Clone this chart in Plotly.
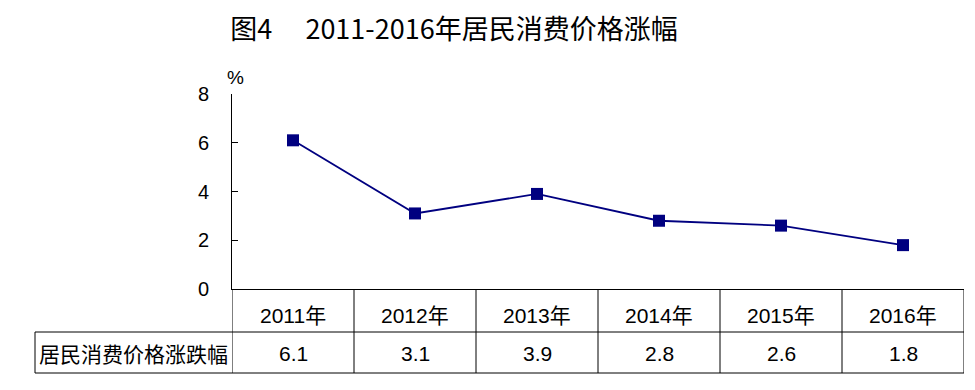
import plotly.graph_objects as go

categories = ["2011年", "2012年", "2013年", "2014年", "2015年", "2016年"]
values = [6.1, 3.1, 3.9, 2.8, 2.6, 1.8]
value_labels = ["6.1", "3.1", "3.9", "2.8", "2.6", "1.8"]
row_label = "居民消费价格涨跌幅"
title_text = "图4　 2011-2016年居民消费价格涨幅"
y_ticks = [0, 2, 4, 6, 8]
unit = "%"

W, H = 975, 390
L, R, T, B = 232, 11, 94, 101
ph = H - T - B
pw = W - L - R

def py(px):  # pixel y -> paper y
    return (H - B - px) / ph

def pxx(px):
    return (px - L) / pw

idx = list(range(len(categories)))
fig = go.Figure()
fig.add_trace(go.Scatter(
    x=idx, y=values, mode="lines+markers",
    line=dict(color="#000080", width=1.8),
    marker=dict(symbol="square", size=12, color="#000080"),
    hoverinfo="skip", showlegend=False, cliponaxis=False,
))

shapes = []
line = dict(color="black", width=1)
row1_top, row1_bot, row2_bot = 289, 332, 373
for i in range(len(categories) + 1):
    shapes.append(dict(type="line", xref="x", yref="paper", x0=i - 0.5, x1=i - 0.5,
                       y0=py(row1_top), y1=py(row2_bot), line=line))
shapes.append(dict(type="line", xref="paper", yref="paper", x0=pxx(35), x1=1,
                   y0=py(row1_bot), y1=py(row1_bot), line=line))
shapes.append(dict(type="line", xref="paper", yref="paper", x0=pxx(35), x1=1,
                   y0=py(row2_bot), y1=py(row2_bot), line=line))
shapes.append(dict(type="line", xref="paper", yref="paper", x0=pxx(35), x1=pxx(35),
                   y0=py(row1_bot), y1=py(row2_bot), line=line))

annotations = []
tfont = dict(family="Liberation Sans, Noto Sans CJK SC, Arial", size=21, color="black")
for i, c in enumerate(categories):
    annotations.append(dict(x=i, y=py(315), xref="x", yref="paper", text=c,
                            showarrow=False, font=tfont, xanchor="center", yanchor="middle"))
    annotations.append(dict(x=i, y=py(353), xref="x", yref="paper", text=value_labels[i],
                            showarrow=False, font=tfont, xanchor="center", yanchor="middle"))
annotations.append(dict(x=pxx(133), y=py(353), xref="paper", yref="paper", text=row_label,
                        showarrow=False, font=dict(family="Noto Sans CJK SC", size=21, color="black"),
                        xanchor="center", yanchor="middle"))
annotations.append(dict(x=pxx(235), y=py(77), xref="paper", yref="paper", text=unit,
                        showarrow=False, font=dict(family="Liberation Sans, Arial", size=19, color="black"),
                        xanchor="center", yanchor="middle"))

fig.update_layout(
    width=W, height=H,
    margin=dict(l=L, r=R, t=T, b=B),
    paper_bgcolor="white", plot_bgcolor="white",
    title=dict(text=title_text, xref="container", yref="container",
               x=454 / W, y=1 - 30 / H, xanchor="center", yanchor="middle",
               font=dict(family="Noto Sans CJK SC", size=27, color="black")),
    xaxis=dict(range=[-0.5, len(categories) - 0.5], showline=True, linecolor="black", linewidth=1,
               showticklabels=False, ticks="", showgrid=False, zeroline=False, fixedrange=True),
    yaxis=dict(range=[0, 8], tickvals=y_ticks, ticks="inside", ticklen=6, tickcolor="black",
               showline=True, linecolor="black", linewidth=1, showgrid=False, zeroline=False,
               ticklabelstandoff=18, fixedrange=True,
               tickfont=dict(family="Liberation Sans, Arial", size=20, color="black")),
    shapes=shapes, annotations=annotations,
)
fig.write_html("out.html", config={"displayModeBar": False, "staticPlot": True},
               post_script="document.body.style.margin='0';")
